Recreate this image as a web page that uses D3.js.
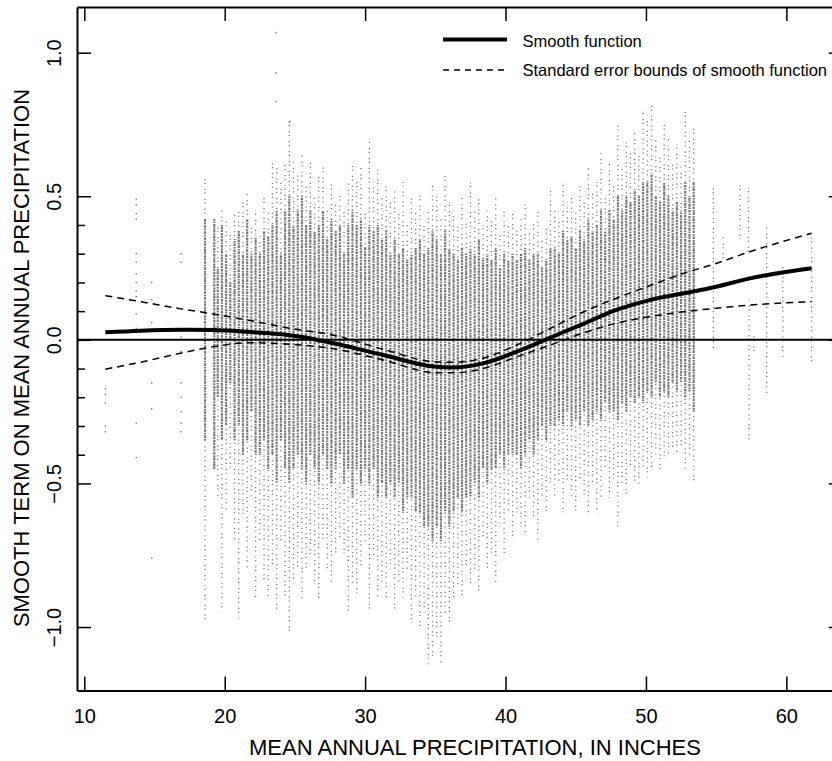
<!DOCTYPE html>
<html>
<head>
<meta charset="utf-8" />
<script src="https://cdn.jsdelivr.net/npm/d3@7/dist/d3.min.js"></script>
<style>
    body { margin: 0; background: #fff; }
    svg text { font-family: "Liberation Sans", Arial, Helvetica, sans-serif; fill: #000; }
</style>
</head>
<body>
<svg id="chart" width="832" height="761"></svg>
<script>
// smooth term and its standard error bounds
var fitX   = [11.5, 14, 17, 19.2, 21.6, 25.4, 27.5, 31.3, 34.9, 36.3, 38.4, 40.8, 43.2, 45.5, 47.9, 50.3, 52.7, 55.0, 57.4, 61.8];
var fitY   = [0.026, 0.032, 0.035, 0.034, 0.028, 0.011, -0.009, -0.053, -0.093, -0.096, -0.082, -0.041, 0.008, 0.055, 0.104, 0.139, 0.162, 0.185, 0.214, 0.249];
var upperY = [0.154, 0.133, 0.107, 0.090, 0.069, 0.034, 0.019, -0.033, -0.076, -0.078, -0.064, -0.018, 0.040, 0.096, 0.145, 0.189, 0.232, 0.266, 0.307, 0.371];
var lowerY = [-0.102, -0.078, -0.045, -0.024, -0.010, -0.018, -0.029, -0.070, -0.114, -0.115, -0.100, -0.059, -0.018, 0.023, 0.058, 0.081, 0.098, 0.110, 0.121, 0.133];

// partial residuals as vertical strips of sites at one precipitation value:
// sparse extent (tailHi..tailLo) and the dense middle (coreHi..coreLo)
var stripX = [18.6, 19.26,
    19.5, 19.8, 20.1, 20.4, 20.7, 21.0, 21.3, 21.6, 21.9, 22.2,
    22.5, 22.8, 23.1, 23.4, 23.7, 24.0, 24.3, 24.6, 24.9, 25.2,
    25.5, 25.8, 26.1, 26.4, 26.7, 27.0, 27.3, 27.6, 27.9, 28.2,
    28.5, 28.8, 29.1, 29.4, 29.7, 30.0, 30.3, 30.6, 30.9, 31.2,
    31.5, 31.8, 32.1, 32.4, 32.7, 33.0, 33.3, 33.6, 33.9, 34.2,
    34.5, 34.8, 35.1, 35.4, 35.7, 36.0, 36.3, 36.6, 36.9, 37.2,
    37.5, 37.8, 38.1, 38.4, 38.7, 39.0, 39.3, 39.6, 39.9, 40.2,
    40.5, 40.8, 41.1, 41.4, 41.7, 42.0, 42.3, 42.6, 42.9, 43.2,
    43.5, 43.8, 44.1, 44.4, 44.7, 45.0, 45.3, 45.6, 45.9, 46.2,
    46.5, 46.8, 47.1, 47.4, 47.7, 48.0, 48.3, 48.6, 48.9, 49.2,
    49.5, 49.8, 50.1, 50.4, 50.7, 51.0, 51.3, 51.6, 51.9, 52.2,
    52.5, 52.8, 53.1, 53.4,
    54.8, 55.5, 56.7, 57.3, 57.35, 57.7, 58.6, 59.75, 61.8];
var tailHi = [0.56, 0.42,
    0.40, 0.46, 0.43, 0.37, 0.44, 0.46, 0.48, 0.51, 0.40, 0.45,
    0.36, 0.50, 0.45, 0.63, 0.60, 0.55, 0.62, 0.76, 0.62, 0.58,
    0.65, 0.55, 0.62, 0.50, 0.58, 0.60, 0.45, 0.55, 0.48, 0.52,
    0.45, 0.55, 0.62, 0.55, 0.60, 0.45, 0.70, 0.55, 0.60, 0.50,
    0.55, 0.48, 0.52, 0.45, 0.55, 0.40, 0.50, 0.45, 0.52, 0.40,
    0.45, 0.55, 0.50, 0.42, 0.58, 0.48, 0.45, 0.40, 0.50, 0.42,
    0.55, 0.45, 0.50, 0.40, 0.45, 0.42, 0.50, 0.38, 0.45, 0.40,
    0.45, 0.38, 0.42, 0.48, 0.38, 0.42, 0.45, 0.35, 0.40, 0.52,
    0.45, 0.42, 0.55, 0.48, 0.50, 0.45, 0.55, 0.48, 0.60, 0.52,
    0.55, 0.65, 0.50, 0.62, 0.55, 0.75, 0.60, 0.70, 0.65, 0.72,
    0.65, 0.80, 0.78, 0.82, 0.70, 0.65, 0.75, 0.70, 0.62, 0.68,
    0.60, 0.80, 0.70, 0.75,
    0.53, 0.36, 0.55, 0.53, 0.14, 0.02, 0.40, 0.27, 0.36];
var coreHi = [0.42, 0.42,
    0.25, 0.40, 0.30, 0.20, 0.35, 0.38, 0.30, 0.42, 0.30, 0.36,
    0.30, 0.38, 0.36, 0.40, 0.45, 0.30, 0.45, 0.50, 0.40, 0.45,
    0.50, 0.40, 0.45, 0.38, 0.40, 0.45, 0.35, 0.42, 0.38, 0.40,
    0.30, 0.40, 0.45, 0.40, 0.42, 0.32, 0.40, 0.38, 0.40, 0.35,
    0.38, 0.30, 0.35, 0.30, 0.32, 0.28, 0.30, 0.32, 0.35, 0.30,
    0.32, 0.38, 0.35, 0.30, 0.38, 0.32, 0.30, 0.28, 0.32, 0.30,
    0.32, 0.30, 0.35, 0.28, 0.30, 0.28, 0.32, 0.25, 0.30, 0.28,
    0.30, 0.28, 0.30, 0.32, 0.28, 0.30, 0.30, 0.25, 0.28, 0.32,
    0.32, 0.30, 0.38, 0.35, 0.36, 0.32, 0.38, 0.35, 0.42, 0.38,
    0.40, 0.45, 0.38, 0.45, 0.42, 0.50, 0.45, 0.50, 0.48, 0.52,
    0.50, 0.55, 0.55, 0.58, 0.50, 0.48, 0.55, 0.50, 0.45, 0.48,
    0.45, 0.55, 0.50, 0.55,
    0.53, 0.36, 0.55, 0.53, 0.14, 0.02, 0.28, 0.27, 0.36];
var coreLo = [-0.35, -0.45,
    -0.20, -0.35, -0.30, -0.15, -0.35, -0.30, -0.40, -0.35, -0.25, -0.40,
    -0.40, -0.35, -0.45, -0.40, -0.50, -0.35, -0.45, -0.50, -0.45, -0.40,
    -0.45, -0.50, -0.40, -0.45, -0.50, -0.40, -0.45, -0.50, -0.45, -0.40,
    -0.50, -0.45, -0.55, -0.45, -0.50, -0.45, -0.50, -0.45, -0.55, -0.50,
    -0.55, -0.50, -0.55, -0.50, -0.60, -0.55, -0.55, -0.60, -0.60, -0.65,
    -0.65, -0.70, -0.65, -0.70, -0.60, -0.65, -0.60, -0.55, -0.60, -0.55,
    -0.55, -0.50, -0.55, -0.45, -0.50, -0.45, -0.45, -0.40, -0.45, -0.40,
    -0.40, -0.40, -0.45, -0.40, -0.35, -0.40, -0.35, -0.30, -0.35, -0.30,
    -0.30, -0.28, -0.30, -0.25, -0.30, -0.28, -0.30, -0.25, -0.30, -0.28,
    -0.25, -0.28, -0.22, -0.25, -0.25, -0.28, -0.22, -0.25, -0.20, -0.22,
    -0.20, -0.22, -0.18, -0.20, -0.15, -0.20, -0.18, -0.20, -0.15, -0.18,
    -0.15, -0.20, -0.18, -0.25,
    0.53, 0.36, 0.55, 0.53, 0.14, 0.02, 0.28, 0.27, 0.36];
var tailLo = [-0.98, -0.45,
    -0.55, -0.95, -0.60, -0.45, -0.70, -0.97, -0.62, -0.80, -0.55, -0.90,
    -0.70, -0.85, -0.90, -0.80, -0.95, -0.70, -0.90, -1.03, -0.85, -0.80,
    -0.90, -0.80, -0.75, -0.85, -0.90, -0.70, -0.80, -0.85, -0.75, -0.70,
    -0.75, -0.95, -0.85, -0.88, -0.80, -0.70, -0.95, -0.75, -0.90, -0.85,
    -0.90, -0.80, -0.95, -0.85, -0.90, -0.80, -0.98, -0.90, -1.00, -0.95,
    -1.13, -1.10, -1.05, -1.13, -0.95, -1.00, -0.90, -0.85, -0.90, -0.80,
    -0.85, -0.80, -0.88, -0.70, -0.80, -0.75, -0.85, -0.65, -0.75, -0.60,
    -0.70, -0.60, -0.65, -0.68, -0.55, -0.62, -0.70, -0.55, -0.60, -0.50,
    -0.55, -0.50, -0.60, -0.50, -0.55, -0.60, -0.50, -0.55, -0.60, -0.50,
    -0.60, -0.55, -0.45, -0.55, -0.50, -0.65, -0.50, -0.55, -0.45, -0.50,
    -0.50, -0.45, -0.48, -0.45, -0.40, -0.45, -0.42, -0.40, -0.38, -0.40,
    -0.38, -0.45, -0.40, -0.50,
    -0.03, 0.28, 0.35, 0.29, -0.35, -0.05, -0.19, -0.06, -0.08];

// isolated sites
var siteX = [11.5, 11.5, 11.5, 11.5, 11.5, 13.7, 13.7, 13.7, 13.7, 13.7, 13.7, 13.7, 13.7, 13.7, 13.7, 13.7, 13.7, 13.7, 13.7,
    14.8, 14.8, 14.8, 14.8, 14.8, 14.8, 16.9, 16.9, 16.9, 16.9, 16.9, 16.9, 16.9, 16.9, 16.9, 23.65, 23.65, 23.65, 24.65];
var siteY = [-0.17, -0.19, -0.22, -0.30, -0.32, 0.49, 0.47, 0.44, 0.42, 0.30, 0.27, 0.23, 0.20, 0.17, 0.15, 0.09, 0.04, -0.29, -0.41,
    0.20, 0.14, 0.06, -0.15, -0.24, -0.76, 0.30, 0.27, 0.01, -0.04, -0.15, -0.20, -0.25, -0.29, -0.32, 1.07, 0.93, 0.83, 0.76];

var xTicks = [10, 20, 30, 40, 50, 60];
var yTicks = [-1.0, -0.5, 0.0, 0.5, 1.0];
var yMinorTicks = [-0.4, -0.3, -0.2, -0.1, 0.1, 0.2, 0.3, 0.4];

var svg = d3.select('#chart');
var plotLeft = 77, plotRight = 842.8, plotTop = 7, plotBottom = 690.5;

var x = d3.scaleLinear().domain([9.48, 64.02]).range([plotLeft, plotRight]);
var y = d3.scaleLinear().domain([-1.221, 1.159]).range([plotBottom, plotTop]);

var dotColor = '#777';

// residual strips: sparse tails, then the denser core on top
var strips = d3.range(stripX.length);
svg.append('g').selectAll('line').data(strips).enter().append('line')
    .attr('x1', function(i) { return x(stripX[i]); })
    .attr('x2', function(i) { return x(stripX[i]); })
    .attr('y1', function(i) { return y(tailHi[i]); })
    .attr('y2', function(i) { return y(tailLo[i]); })
    .attr('stroke', dotColor).attr('stroke-width', 1.3)
    .attr('stroke-dasharray', '1.2,2.5,1.2,5')
    .attr('stroke-dashoffset', function(i) { return (i * 3.7) % 10; });
svg.append('g').selectAll('line').data(strips.filter(function(i) { return coreHi[i] > coreLo[i]; })).enter().append('line')
    .attr('x1', function(i) { return x(stripX[i]); })
    .attr('x2', function(i) { return x(stripX[i]); })
    .attr('y1', function(i) { return y(coreHi[i]); })
    .attr('y2', function(i) { return y(coreLo[i]); })
    .attr('stroke', dotColor).attr('stroke-width', 2.2)
    .attr('stroke-dasharray', '2.5,1,1.5,1')
    .attr('stroke-dashoffset', function(i) { return (i * 1.3) % 6; });

svg.append('g').selectAll('rect').data(siteX).enter().append('rect')
    .attr('x', function(d) { return x(d) - 0.7; })
    .attr('y', function(d, i) { return y(siteY[i]) - 0.7; })
    .attr('width', 1.4).attr('height', 1.4)
    .attr('fill', dotColor);

// zero reference line
svg.append('line')
    .attr('x1', plotLeft).attr('x2', plotRight)
    .attr('y1', y(0)).attr('y2', y(0))
    .attr('stroke', '#000').attr('stroke-width', 2);

var pts = d3.range(fitX.length);
function curveOf(vals) {
    return d3.line()
        .x(function(i) { return x(fitX[i]); })
        .y(function(i) { return y(vals[i]); })
        .curve(d3.curveMonotoneX)(pts);
}
svg.append('path').attr('d', curveOf(upperY)).attr('fill', 'none')
    .attr('stroke', '#000').attr('stroke-width', 1.5).attr('stroke-dasharray', '7,5');
svg.append('path').attr('d', curveOf(lowerY)).attr('fill', 'none')
    .attr('stroke', '#000').attr('stroke-width', 1.5).attr('stroke-dasharray', '7,5');
svg.append('path').attr('d', curveOf(fitY)).attr('fill', 'none')
    .attr('stroke', '#000').attr('stroke-width', 4);

// axes, ticks pointing inward
var xAxis = d3.axisBottom(x).tickValues(xTicks).tickSizeInner(-14).tickSizeOuter(0).tickPadding(18);
var gx = svg.append('g').attr('transform', 'translate(0,' + plotBottom + ')').call(xAxis);
gx.selectAll('text').style('font-size', '20px');

svg.append('g').attr('transform', 'translate(0,' + plotTop + ')')
    .call(d3.axisTop(x).tickValues(xTicks).tickSizeInner(-14).tickSizeOuter(0).tickFormat(''));

var yAxis = d3.axisLeft(y).tickValues(yTicks).tickSizeInner(-14).tickSizeOuter(0).tickFormat(d3.format('.1f'));
var gy = svg.append('g').attr('transform', 'translate(' + plotLeft + ',0)').call(yAxis);
gy.selectAll('text')
    .text(function(d) { return d3.format('.1f')(d).replace('-', '\u2212'); })
    .attr('text-anchor', 'middle').attr('x', 0).attr('dy', 0)
    .attr('transform', 'translate(-16,0) rotate(-90)')
    .style('font-size', '20px');

svg.append('g').attr('transform', 'translate(' + plotLeft + ',0)')
    .call(d3.axisLeft(y).tickValues(yMinorTicks).tickSizeInner(-8).tickSizeOuter(0).tickFormat(''))
    .select('.domain').remove();

svg.append('g').attr('transform', 'translate(' + plotRight + ',0)')
    .call(d3.axisRight(y).tickValues(yTicks).tickSizeInner(-14).tickSizeOuter(0).tickFormat(''));

svg.selectAll('.domain').attr('stroke-width', 2);
svg.selectAll('.tick line').attr('stroke-width', 1.5);

// axis titles
svg.append('text').attr('x', 475).attr('y', 755).attr('text-anchor', 'middle')
    .style('font-size', '22px').text('MEAN ANNUAL PRECIPITATION, IN INCHES');
svg.append('text').attr('transform', 'translate(29,' + 358 + ') rotate(-90)').attr('text-anchor', 'middle')
    .style('font-size', '22px').text('SMOOTH TERM ON MEAN ANNUAL PRECIPITATION');

// legend
var legend = svg.append('g');
legend.append('line').attr('x1', 443).attr('x2', 507).attr('y1', 39.5).attr('y2', 39.5)
    .attr('stroke', '#000').attr('stroke-width', 4);
legend.append('text').attr('x', 522.5).attr('y', 46.5).style('font-size', '16.5px').text('Smooth function');
legend.append('line').attr('x1', 443).attr('x2', 507).attr('y1', 70).attr('y2', 70)
    .attr('stroke', '#000').attr('stroke-width', 1.5).attr('stroke-dasharray', '6,5');
legend.append('text').attr('x', 522.5).attr('y', 75.5).style('font-size', '16.5px').text('Standard error bounds of smooth function');
</script>
</body>
</html>
